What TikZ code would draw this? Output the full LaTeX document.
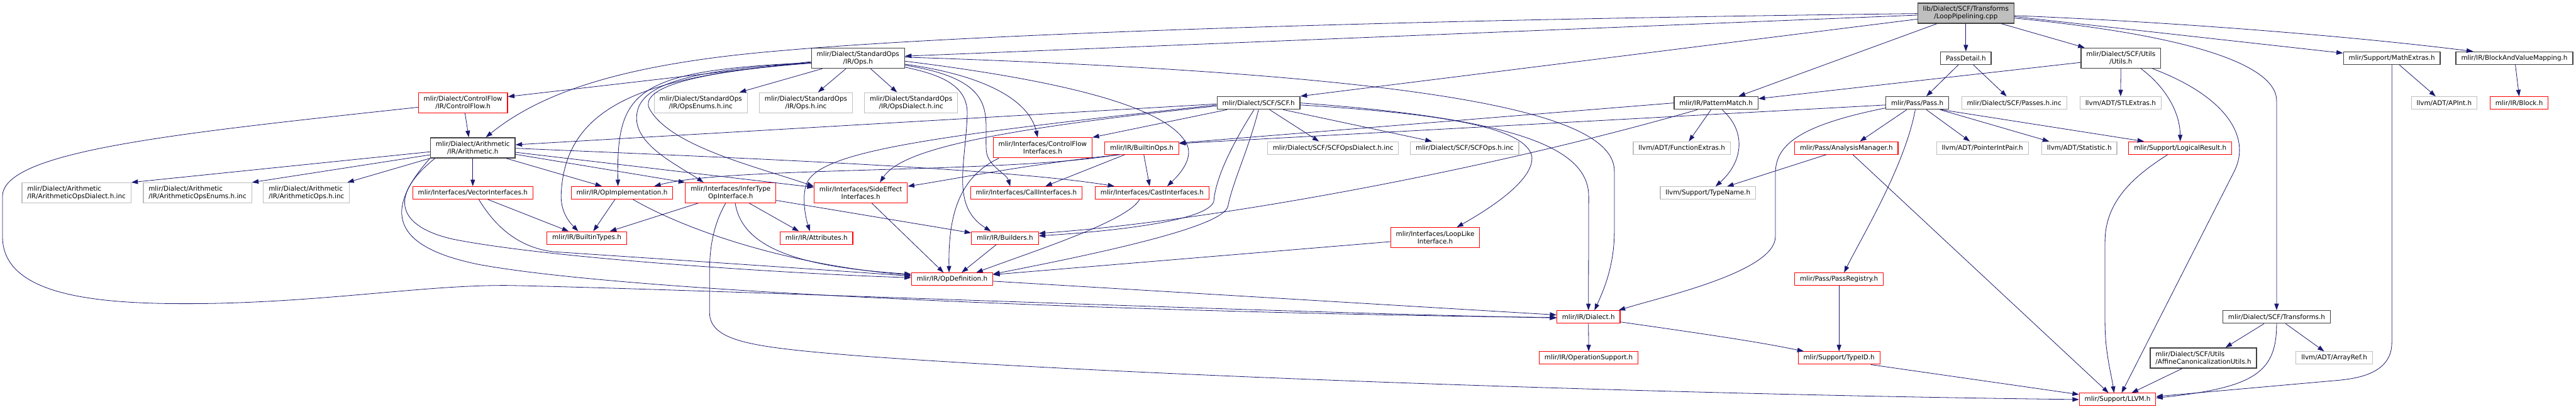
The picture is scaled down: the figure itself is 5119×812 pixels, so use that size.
\documentclass[tikz,border=0pt]{standalone}
\usepackage{fontspec}
\setmainfont{DejaVu Sans}
\usetikzlibrary{arrows.meta}
\definecolor{midnight}{HTML}{191970}
\definecolor{grey75}{HTML}{BFBFBF}
\definecolor{grey25}{HTML}{404040}

\begin{document}
\begin{tikzpicture}[x=1pt,y=-1pt,font=\fontsize{13pt}{15pt}\selectfont,
  hfile/.style={draw=grey25,line width=1.8pt,fill=white,inner xsep=10.5pt,inner ysep=2pt,minimum height=25pt},
  redfile/.style={hfile,draw=red,line width=1.4pt},
  extfile/.style={hfile,draw=grey75,line width=1.4pt},
  topfile/.style={hfile,fill=grey75},
  two/.style={minimum height=40pt,align=center},
  twoleft/.style={minimum height=40pt,align=left},
  dep/.style={midnight,line width=1pt,-{Triangle[length=13pt,width=9pt]}}]
\useasboundingbox (0,0) rectangle (5119,812);

\node[topfile,two] (root) at (3906.5,26) {lib/Dialect/SCF/Transforms\\/LoopPipelining.cpp};
\node[hfile,two] (stdops) at (1705,115.5) {mlir/Dialect/StandardOps\\/IR/Ops.h};
\node[hfile] (passdetail) at (3906.5,115.5) {PassDetail.h};
\node[hfile,two] (scfutils) at (4214.5,115.5) {mlir/Dialect/SCF/Utils\\/Utils.h};
\node[hfile] (mathextras) at (4753,115.5) {mlir/Support/MathExtras.h};
\node[hfile] (bvmap) at (4996.5,115.5) {mlir/IR/BlockAndValueMapping.h};
\node[redfile,two] (controlflow) at (920,204) {mlir/Dialect/ControlFlow\\/IR/ControlFlow.h};
\node[extfile,two] (opsenums) at (1392.5,204) {mlir/Dialect/StandardOps\\/IR/OpsEnums.h.inc};
\node[extfile,two] (opsinc) at (1601.5,204) {mlir/Dialect/StandardOps\\/IR/Ops.h.inc};
\node[extfile,two] (opsdialect) at (1810.5,204) {mlir/Dialect/StandardOps\\/IR/OpsDialect.h.inc};
\node[hfile] (scf) at (2501,204.5) {mlir/Dialect/SCF/SCF.h};
\node[hfile] (patternmatch) at (3410,204.5) {mlir/IR/PatternMatch.h};
\node[hfile] (pass) at (3810,204.5) {mlir/Pass/Pass.h};
\node[extfile] (passesinc) at (4002.5,204.5) {mlir/Dialect/SCF/Passes.h.inc};
\node[extfile] (stlextras) at (4214,204.5) {llvm/ADT/STLExtras.h};
\node[extfile] (apint) at (4857,204.5) {llvm/ADT/APInt.h};
\node[redfile] (block) at (5006,204.5) {mlir/IR/Block.h};
\node[hfile,two] (arith) at (939.5,293.5) {mlir/Dialect/Arithmetic\\/IR/Arithmetic.h};
\node[redfile,two] (cfiface) at (2072,293.5) {mlir/Interfaces/ControlFlow\\Interfaces.h};
\node[redfile] (builtinops) at (2269,294) {mlir/IR/BuiltinOps.h};
\node[extfile] (scfopsdialect) at (2649,294) {mlir/Dialect/SCF/SCFOpsDialect.h.inc};
\node[extfile] (scfopsinc) at (2910.5,294) {mlir/Dialect/SCF/SCFOps.h.inc};
\node[extfile] (funcextras) at (3342,294) {llvm/ADT/FunctionExtras.h};
\node[redfile] (analysis) at (3669,294) {mlir/Pass/AnalysisManager.h};
\node[extfile] (ptrintpair) at (3939.5,294) {llvm/ADT/PointerIntPair.h};
\node[extfile] (statistic) at (4132,294) {llvm/ADT/Statistic.h};
\node[redfile] (logicalresult) at (4332.5,294) {mlir/Support/LogicalResult.h};
\node[extfile,twoleft] (aridialinc) at (152,383) {mlir/Dialect/Arithmetic\\/IR/ArithmeticOpsDialect.h.inc};
\node[extfile,twoleft] (arienuminc) at (392.5,383) {mlir/Dialect/Arithmetic\\/IR/ArithmeticOpsEnums.h.inc};
\node[extfile,twoleft] (ariopsinc) at (609,383) {mlir/Dialect/Arithmetic\\/IR/ArithmeticOps.h.inc};
\node[redfile] (vectoriface) at (939.5,383) {mlir/Interfaces/VectorInterfaces.h};
\node[redfile] (opimpl) at (1236,383) {mlir/IR/OpImplementation.h};
\node[redfile,two] (infertype) at (1452,383) {mlir/Interfaces/InferType\\OpInterface.h};
\node[redfile,two] (sideeffect) at (1710.5,383) {mlir/Interfaces/SideEffect\\Interfaces.h};
\node[redfile] (calliface) at (2039.5,383) {mlir/Interfaces/CallInterfaces.h};
\node[redfile] (castiface) at (2289.5,383) {mlir/Interfaces/CastInterfaces.h};
\node[extfile] (typename) at (3394,383.5) {llvm/Support/TypeName.h};
\node[redfile] (builtintypes) at (1166,472.5) {mlir/IR/BuiltinTypes.h};
\node[redfile] (attributes) at (1622.5,472.5) {mlir/IR/Attributes.h};
\node[redfile] (builders) at (1997,472.5) {mlir/IR/Builders.h};
\node[redfile,two] (looplike) at (2852,472) {mlir/Interfaces/LoopLike\\Interface.h};
\node[redfile] (opdef) at (1892,554.5) {mlir/IR/OpDefinition.h};
\node[redfile] (passregistry) at (3654.5,554.5) {mlir/Pass/PassRegistry.h};
\node[redfile] (dialect) at (3156.5,629.5) {mlir/IR/Dialect.h};
\node[hfile] (transforms) at (4524,629.5) {mlir/Dialect/SCF/Transforms.h};
\node[redfile] (opsupport) at (3157,711) {mlir/IR/OperationSupport.h};
\node[redfile] (typeid) at (3654.5,711) {mlir/Support/TypeID.h};
\node[hfile,twoleft] (affine) at (4378.5,711) {mlir/Dialect/SCF/Utils\\/AffineCanonicalizationUtils.h};
\node[extfile] (arrayref) at (4638.5,711) {llvm/ADT/ArrayRef.h};
\node[redfile] (llvm) at (4208,793.5) {mlir/Support/LLVM.h};

% includes of the source file
\draw[dep] ([yshift=-1pt]root.west) .. controls (2700,40) and (1900,70) .. (1560,100) .. controls (1250,125) and (1080,180) .. ([xshift=26pt]arith.north);
\draw[dep] ([yshift=-4pt]root.west) -- ([yshift=4pt]stdops.east);
\draw[dep] ([yshift=-12pt]root.west) -- (scf.north east);
\draw[dep] ([xshift=-57pt]root.south) -- ([xshift=45pt]patternmatch.north);
\draw[dep] (root.south) -- (passdetail.north);
\draw[dep] ([xshift=70pt]root.south) -- ([xshift=8pt]scfutils.north west);
\draw[dep] ([yshift=-7pt]root.east) -- ([yshift=10pt]mathextras.west);
\draw[dep] ([yshift=-5pt]root.east) .. controls (4350,45) and (4700,75) .. ([xshift=-82pt]bvmap.north);
\draw[dep] ([yshift=-10pt]root.east) .. controls (4400,75) and (4524,140) .. (4524,200) -- (transforms.north);

\draw[dep] ([xshift=-15pt]passdetail.south) -- ([xshift=18pt]pass.north);
\draw[dep] ([xshift=15pt]passdetail.south) -- ([xshift=-15pt]passesinc.north);
\draw[dep] ([yshift=-8.5pt]scfutils.west) -- ([yshift=8.5pt]patternmatch.east);
\draw[dep] (scfutils.south) -- (stlextras.north);
\draw[dep] ([xshift=40pt]scfutils.south) .. controls (4300,170) and (4332,220) .. (logicalresult.north);
\draw[dep] ([xshift=63pt]scfutils.south) .. controls (4420,190) and (4475,270) .. (4440,340) -- ([xshift=8pt]llvm.north);
\draw[dep] ([xshift=15pt]mathextras.south) -- ([xshift=-17pt]apint.north);
\draw[dep] (mathextras.south) -- (4753,680) .. controls (4753,735) and (4700,750) .. (4650,755) -- ([yshift=6pt]llvm.east);
\draw[dep] ([xshift=2pt]bvmap.south) -- (block.north);

\draw[dep] ([xshift=-25pt]transforms.south) -- ([xshift=44pt]affine.north);
\draw[dep] ([xshift=18pt]transforms.south) -- ([xshift=-20pt]arrayref.north);
\draw[dep] (transforms.south) .. controls (4524,740) and (4480,770) .. ([yshift=3pt]llvm.east);
\draw[dep] ([xshift=-42pt]affine.south) -- ([xshift=28pt]llvm.north);
\draw[dep] ([xshift=-25pt]logicalresult.south) .. controls (4240,350) and (4183,400) .. (4183,480) -- (4183,640) .. controls (4183,700) and (4195,740) .. ([xshift=-7pt]llvm.north);

% pass
\draw[dep] ([xshift=-21pt]pass.south) -- ([xshift=27pt]analysis.north);
\draw[dep] ([xshift=18pt]pass.south) -- ([xshift=-25pt]ptrintpair.north);
\draw[dep] ([xshift=45pt]pass.south) -- ([xshift=-60pt]statistic.north);
\draw[dep] ([xshift=48pt]pass.south) -- ([xshift=-72pt]logicalresult.north);
\draw[dep] ([xshift=-4pt]pass.south) .. controls (3785,330) and (3700,470) .. ([xshift=10pt]passregistry.north);
\draw[dep] ([yshift=-4pt]pass.west) -- ([yshift=9pt]builtinops.east);
\draw[dep] ([yshift=-10pt]pass.west) .. controls (3570,250) and (3528,290) .. (3528,345) -- (3528,470) .. controls (3528,540) and (3300,590) .. ([xshift=60pt]dialect.north);
\draw[dep] ([xshift=-40pt]analysis.south) -- ([xshift=38pt]typename.north);
\draw[dep] ([xshift=13pt]analysis.south) -- ([xshift=-18pt]llvm.north);
\draw[dep] (passregistry.south) -- (typeid.north);
\draw[dep] ([xshift=63pt]typeid.south) -- ([yshift=10pt]llvm.west);

\draw[dep] ([xshift=12pt]patternmatch.south) .. controls (3470,260) and (3465,320) .. ([xshift=15pt]typename.north);
\draw[dep] ([xshift=-10pt]patternmatch.south) -- ([xshift=14pt]funcextras.north);
\draw[dep] (patternmatch.west) -- ([yshift=10pt]builtinops.east);
\draw[dep] ([xshift=-37pt]patternmatch.south) .. controls (2950,340) and (2400,440) .. ([yshift=9pt]builders.east);

\draw[dep] (dialect.south) -- (opsupport.north);
\draw[dep] ([yshift=-10pt]dialect.east) .. controls (3400,665) and (3500,680) .. ([xshift=-70pt]typeid.north);
\draw[dep] ([yshift=-4pt]opdef.east) -- ([yshift=4pt]dialect.west);

% scf
\draw[dep] ([xshift=22pt]scf.south) -- ([xshift=-28pt]scfopsdialect.north);
\draw[dep] ([xshift=49pt]scf.south) -- ([xshift=-65pt]scfopsinc.north);
\draw[dep] ([yshift=-4pt]scf.east) .. controls (2850,225) and (3030,250) .. (3044,310) .. controls (3050,360) and (2950,420) .. ([xshift=43pt]looplike.north);
\draw[dep] (scf.east) .. controls (3000,235) and (3157,290) .. (3157,390) -- (dialect.north);
\draw[dep] ([yshift=-2pt]scf.west) -- ([yshift=6pt]arith.east);
\draw[dep] ([xshift=-63pt]scf.south) -- (cfiface.north east);
\draw[dep] ([yshift=-6pt]scf.west) .. controls (1950,260) and (1790,300) .. ([xshift=38pt]sideeffect.north);
\draw[dep] ([yshift=-4pt]scf.west) .. controls (1850,270) and (1640,300) .. (1605,360) .. controls (1592,385) and (1600,430) .. ([xshift=-13pt]attributes.north);
\draw[dep] ([xshift=-9pt]scf.south) .. controls (2440,300) and (2415,360) .. (2412,400) .. controls (2400,440) and (2200,460) .. ([yshift=4pt]builders.east);
\draw[dep] (scf.south) .. controls (2480,300) and (2450,360) .. (2440,410) .. controls (2430,450) and (2200,500) .. ([yshift=-3pt]opdef.north east);

% standard ops
\draw[dep] ([yshift=-7pt]stdops.west) -- ([yshift=12pt]controlflow.east);
\draw[dep] ([xshift=-71pt]stdops.south) -- ([xshift=77pt]opsenums.north);
\draw[dep] ([xshift=-24pt]stdops.south) -- ([xshift=24pt]opsinc.north);
\draw[dep] ([xshift=25pt]stdops.south) -- ([xshift=-28pt]opsdialect.north);
\draw[dep] ([yshift=-9pt]stdops.west) .. controls (1300,150) and (1120,200) .. (1115,390) .. controls (1115,425) and (1135,445) .. ([xshift=-17pt]builtintypes.north);
\draw[dep] ([yshift=-9pt]stdops.west) .. controls (1260,140) and (1225,180) .. ([xshift=-8pt]opimpl.north);
\draw[dep] ([yshift=-9pt]stdops.west) .. controls (1340,140) and (1265,175) .. (1265,235) .. controls (1265,290) and (1350,330) .. ([xshift=-54pt]infertype.north);
\draw[dep] ([yshift=-10pt]stdops.west) .. controls (1350,145) and (1275,180) .. (1290,215) .. controls (1330,290) and (1500,330) .. ([yshift=13pt]sideeffect.west);
\draw[dep] ([yshift=-12pt]stdops.east) .. controls (1960,150) and (2045,200) .. ([xshift=-10pt]cfiface.north);
\draw[dep] ([yshift=-14pt]stdops.east) .. controls (1990,160) and (1955,230) .. (1960,300) .. controls (1963,330) and (2000,345) .. ([xshift=-32pt]calliface.north);
\draw[dep] ([yshift=-6pt]stdops.east) .. controls (2150,165) and (2330,220) .. (2360,290) .. controls (2370,320) and (2340,350) .. ([xshift=30pt]castiface.north);
\draw[dep] ([yshift=-18pt]stdops.east) .. controls (1880,150) and (1925,175) .. (1922,230) .. controls (1918,330) and (1890,410) .. ([xshift=-28pt]builders.north);
\draw[dep] ([yshift=2pt]stdops.east) .. controls (2900,150) and (3208,230) .. (3208,340) -- (3208,460) .. controls (3208,530) and (3185,580) .. ([xshift=12pt]dialect.north);

% control flow and arithmetic
\draw[dep] ([xshift=4pt]controlflow.south) -- ([xshift=-8pt]arith.north);
\draw[dep] ([yshift=-9pt]controlflow.west) .. controls (350,265) and (5,300) .. (5,390) -- (5,470) .. controls (5,590) and (200,605) .. (400,603) .. controls (650,600) and (850,565) .. (1014,567) .. controls (1400,575) and (2500,620) .. ([yshift=-2pt]dialect.west);
\draw[dep] ([yshift=-8pt]arith.west) -- (aridialinc.north east);
\draw[dep] ([yshift=-14pt]arith.west) -- (arienuminc.north east);
\draw[dep] (arith.south west) -- ([xshift=-5pt]ariopsinc.north east);
\draw[dep] (arith.south) -- (vectoriface.north);
\draw[dep] ([xshift=66pt]arith.south) -- ([xshift=-40pt]opimpl.north);
\draw[dep] ([yshift=-13pt]arith.east) -- (infertype.north west);
\draw[dep] ([yshift=-9pt]arith.east) -- ([yshift=11pt]sideeffect.west);
\draw[dep] ([yshift=-1pt]arith.east) .. controls (1500,315) and (2000,335) .. ([xshift=-75pt]castiface.north);
\draw[dep] ([xshift=-75pt]arith.south) .. controls (770,390) and (790,450) .. (900,475) .. controls (1100,515) and (1600,545) .. ([yshift=3pt]opdef.west);
\draw[dep] ([xshift=-85pt]arith.south) .. controls (760,420) and (780,490) .. (950,525) .. controls (1300,590) and (2500,625) .. ([yshift=-1pt]dialect.west);

% interfaces
\draw[dep] ([xshift=30pt]vectoriface.south) -- ([xshift=-36pt]builtintypes.north);
\draw[dep] ([xshift=12pt]vectoriface.south) .. controls (990,460) and (1040,493) .. (1100,500) .. controls (1400,520) and (1700,540) .. ([yshift=6pt]opdef.west);
\draw[dep] ([xshift=-14pt]opimpl.south) -- ([xshift=13pt]builtintypes.north);
\draw[dep] ([xshift=22pt]opimpl.south) .. controls (1350,450) and (1550,525) .. ([yshift=8pt]opdef.west);
\draw[dep] ([xshift=-65pt]infertype.south) -- ([xshift=46pt]builtintypes.north);
\draw[dep] ([xshift=37pt]infertype.south) -- ([xshift=-35pt]attributes.north);
\draw[dep] ([yshift=-15pt]infertype.east) -- ([yshift=10pt]builders.west);
\draw[dep] ([xshift=9pt]infertype.south) .. controls (1475,490) and (1580,530) .. ([yshift=10pt]opdef.west);
\draw[dep] ([xshift=-10pt]infertype.south) .. controls (1415,450) and (1410,500) .. (1410,540) -- (1410,620) .. controls (1410,680) and (1500,690) .. (1710,707) .. controls (2300,750) and (3400,785) .. (llvm.west);
\draw[dep] ([xshift=22pt]sideeffect.south) -- ([xshift=-17pt]opdef.north);
\draw[dep] ([xshift=-87pt]cfiface.south) .. controls (1910,350) and (1884,420) .. ([xshift=-6pt]opdef.north);
\draw[dep] ([xshift=-25pt]castiface.south) .. controls (2240,440) and (2050,500) .. ([xshift=48pt]opdef.north);
\draw[dep] ([xshift=-17pt]builders.south) -- ([xshift=19pt]opdef.north);
\draw[dep] ([yshift=-8pt]looplike.west) -- ([yshift=9pt]opdef.east);
\draw[dep] ([xshift=-43pt]builtinops.south) .. controls (2050,325) and (1900,355) .. ([yshift=13pt]sideeffect.east);
\draw[dep] ([xshift=-48pt]builtinops.south) .. controls (2000,345) and (1450,330) .. ([xshift=64pt]opimpl.north);
\draw[dep] ([xshift=-34pt]builtinops.south) -- ([xshift=38pt]calliface.north);
\draw[dep] ([xshift=4pt]builtinops.south) -- ([xshift=-5pt]castiface.north);
\end{tikzpicture}
\end{document}
